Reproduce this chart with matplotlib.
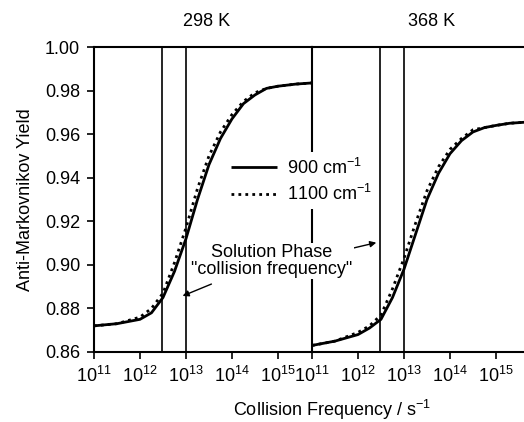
import numpy as np
import matplotlib
matplotlib.use("Agg")
import matplotlib.pyplot as plt
from matplotlib.ticker import FixedLocator, NullLocator, FuncFormatter

plt.rcParams['font.family'] = ['Liberation Sans', 'DejaVu Sans']
plt.rcParams['mathtext.fontset'] = 'custom'
plt.rcParams['mathtext.rm'] = 'Liberation Sans'
plt.rcParams['mathtext.it'] = 'Liberation Sans:italic'
plt.rcParams['font.size'] = 13

# log10 of collision frequency (s^-1)
logf_298 = [11.0, 11.5, 12.0, 12.25, 12.5, 12.75, 13.0, 13.25, 13.5, 13.75,
            14.0, 14.25, 14.5, 14.75, 15.0, 15.4, 15.74]
y298_900 = [0.872, 0.873, 0.875, 0.878, 0.885, 0.897, 0.912, 0.930, 0.946, 0.958,
            0.967, 0.974, 0.978, 0.981, 0.982, 0.983, 0.9835]
y298_1100 = [0.872, 0.873, 0.876, 0.880, 0.887, 0.901, 0.917, 0.935, 0.950, 0.961,
             0.969, 0.975, 0.979, 0.981, 0.982, 0.983, 0.9835]

logf_368 = [11.0, 11.5, 12.0, 12.25, 12.5, 12.75, 13.0, 13.25, 13.5, 13.75,
            14.0, 14.25, 14.5, 14.75, 15.0, 15.3, 15.65]
y368_900 = [0.863, 0.865, 0.868, 0.871, 0.875, 0.885, 0.898, 0.914, 0.930, 0.942,
            0.951, 0.957, 0.961, 0.963, 0.964, 0.965, 0.9655]
y368_1100 = [0.863, 0.865, 0.869, 0.872, 0.877, 0.889, 0.903, 0.919, 0.934, 0.945,
             0.953, 0.958, 0.962, 0.963, 0.964, 0.965, 0.9655]

solution_freq = [3e12, 1e13]
panel_titles = ["298 K", "368 K"]
series_labels = ["900 cm$^{-1}$", "1100 cm$^{-1}$"]
yticks = [0.86, 0.88, 0.90, 0.92, 0.94, 0.96, 0.98, 1.00]
xticks = [1e11, 1e12, 1e13, 1e14, 1e15]

W, H = 524, 422
fig = plt.figure(figsize=(W / 100, H / 100), dpi=100)

x0, x1, x2 = 94, 312, 530
ytop, ybot = 47, 352
ax1 = fig.add_axes([x0 / W, 1 - ybot / H, (x1 - x0) / W, (ybot - ytop) / H])
ax2 = fig.add_axes([x1 / W, 1 - ybot / H, (x2 - x1) / W, (ybot - ytop) / H], sharey=ax1)
for ax in (ax1, ax2):
    ax.patch.set_visible(False)

def decade_fmt(v, pos):
    return "10$^{%d}$" % int(round(np.log10(v)))

panels = [(ax1, logf_298, y298_900, y298_1100), (ax2, logf_368, y368_900, y368_1100)]
for ax, lf, ys, yd in panels:
    f = 10 ** np.array(lf)
    l1, = ax.plot(f, ys, color='black', lw=2.0, solid_capstyle='butt')
    l2, = ax.plot(f, yd, color='black', lw=2.0, ls=(0, (1, 1.5)))
    for v in solution_freq:
        ax.axvline(v, color='black', lw=1.2)
    ax.set_xscale('log')
    ax.xaxis.set_major_locator(FixedLocator(xticks))
    ax.xaxis.set_major_formatter(FuncFormatter(decade_fmt))
    ax.xaxis.set_minor_locator(NullLocator())
    ax.tick_params(direction='out', length=5, width=1.2, labelsize=13, pad=5)
    for s in ax.spines.values():
        s.set_linewidth(1.5)

ax1.set_xlim(1e11, 10 ** 15.74)
ax2.set_xlim(1e11, 10 ** 15.74)
ax1.set_ylim(0.86, 1.00)
ax1.set_yticks(yticks)
ax1.yaxis.set_major_formatter(FuncFormatter(lambda v, p: "%.2f" % v))
ax2.spines['left'].set_visible(False)
ax2.spines['right'].set_visible(False)
ax2.tick_params(axis='y', left=False, labelleft=False)
ax1.set_ylabel("Anti-Markovnikov Yield", fontsize=13, labelpad=8)

fig.text(207 / W, 1 - 22 / H, panel_titles[0], ha='center', va='center', fontsize=13)
fig.text(432 / W, 1 - 22 / H, panel_titles[1], ha='center', va='center', fontsize=13)
fig.text(332 / W, 1 - 410 / H, "Collision Frequency / s$^{-1}$", ha='center',
         va='center', fontsize=13)

leg = fig.legend([l1, l2], series_labels, loc='upper left',
                 bbox_to_anchor=(226 / W, 1 - 152 / H), frameon=True,
                 fancybox=False, edgecolor='none', facecolor='white', framealpha=1,
                 handlelength=2.5, handletextpad=0.6, labelspacing=0.35,
                 borderpad=0.3, borderaxespad=0, fontsize=13)
leg.set_zorder(10)

fig.text(272 / W, 1 - 261 / H, 'Solution Phase\n"collision frequency"', ha='center',
         va='center', fontsize=13, linespacing=1.0, zorder=10,
         bbox=dict(facecolor='white', edgecolor='none', pad=1))

arrow = dict(arrowstyle='-|>', color='black', lw=1.0, mutation_scale=9)
ax1.annotate('', xy=(180 / W, 1 - 297 / H), xycoords='figure fraction',
             xytext=(214 / W, 1 - 283 / H), textcoords='figure fraction',
             arrowprops=arrow, annotation_clip=False, zorder=11)
ax1.annotate('', xy=(379 / W, 1 - 242 / H), xycoords='figure fraction',
             xytext=(345 / W, 1 - 250 / H), textcoords='figure fraction',
             arrowprops=arrow, annotation_clip=False, zorder=11)

fig.savefig("out.png", dpi=100)
